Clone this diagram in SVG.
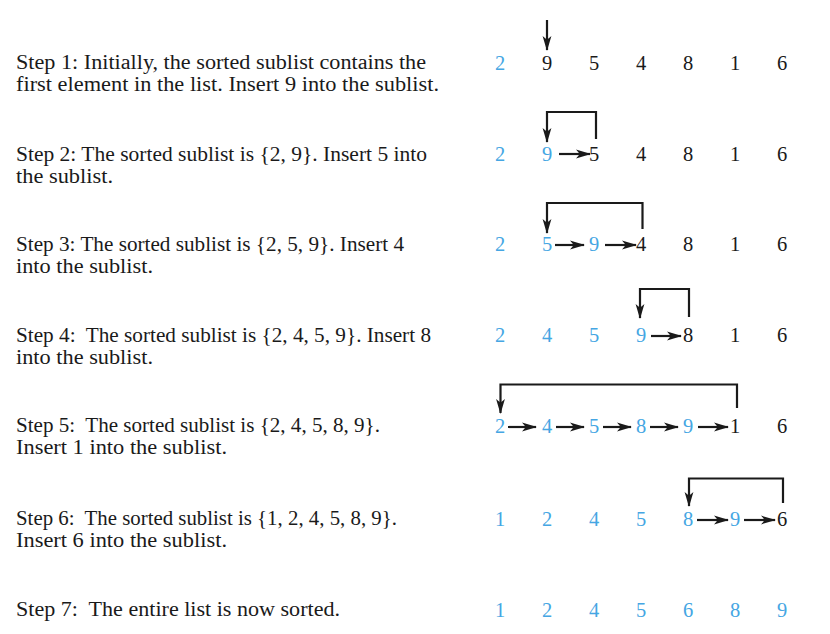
<svg xmlns="http://www.w3.org/2000/svg" width="830" height="634" viewBox="0 0 830 634">
<style>
.lbl{font-family:"Liberation Serif","Times New Roman",serif;font-size:20px;fill:#1a1a1a;white-space:pre}
.n{font-family:"Liberation Serif","Times New Roman",serif;font-size:20.5px;fill:#1a1a1a;text-anchor:middle}
.b{fill:#45a6e3}
.c{fill:none;stroke:#1a1a1a;stroke-width:2.2}
</style>
<defs>
<marker id="ah" markerUnits="userSpaceOnUse" markerWidth="15" markerHeight="10" refX="14" refY="5" orient="auto" viewBox="0 0 15 10">
<path d="M0,0.6 L15,5 L0,9.4 L3.8,5 Z" fill="#1a1a1a"/>
</marker>
</defs>
<rect width="830" height="634" fill="#ffffff"/>

<g id="step1">
<text class="lbl" x="16" y="69" textLength="410" lengthAdjust="spacingAndGlyphs">Step 1: Initially, the sorted sublist contains the</text>
<text class="lbl" x="16" y="91" textLength="423" lengthAdjust="spacingAndGlyphs">first element in the list. Insert 9 into the sublist.</text>
<text class="n b" x="500" y="70">2</text><text class="n" x="547" y="70">9</text><text class="n" x="594" y="70">5</text><text class="n" x="641" y="70">4</text><text class="n" x="688" y="70">8</text><text class="n" x="735" y="70">1</text><text class="n" x="782" y="70">6</text>
</g>
<g id="step2">
<text class="lbl" x="16" y="161" textLength="411" lengthAdjust="spacingAndGlyphs">Step 2: The sorted sublist is {2, 9}. Insert 5 into</text>
<text class="lbl" x="16" y="183" textLength="97" lengthAdjust="spacingAndGlyphs">the sublist.</text>
<text class="n b" x="500" y="161">2</text><text class="n b" x="547" y="161">9</text><text class="n" x="594" y="161">5</text><text class="n" x="641" y="161">4</text><text class="n" x="688" y="161">8</text><text class="n" x="735" y="161">1</text><text class="n" x="782" y="161">6</text>
</g>
<g id="step3">
<text class="lbl" x="16" y="251" textLength="388" lengthAdjust="spacingAndGlyphs">Step 3: The sorted sublist is {2, 5, 9}. Insert 4</text>
<text class="lbl" x="16" y="273" textLength="137" lengthAdjust="spacingAndGlyphs">into the sublist.</text>
<text class="n b" x="500" y="251">2</text><text class="n b" x="547" y="251">5</text><text class="n b" x="594" y="251">9</text><text class="n" x="641" y="251">4</text><text class="n" x="688" y="251">8</text><text class="n" x="735" y="251">1</text><text class="n" x="782" y="251">6</text>
</g>
<g id="step4">
<text class="lbl" x="16" y="342" textLength="415" lengthAdjust="spacingAndGlyphs">Step 4:  The sorted sublist is {2, 4, 5, 9}. Insert 8</text>
<text class="lbl" x="16" y="364" textLength="137" lengthAdjust="spacingAndGlyphs">into the sublist.</text>
<text class="n b" x="500" y="342">2</text><text class="n b" x="547" y="342">4</text><text class="n b" x="594" y="342">5</text><text class="n b" x="641" y="342">9</text><text class="n" x="688" y="342">8</text><text class="n" x="735" y="342">1</text><text class="n" x="782" y="342">6</text>
</g>
<g id="step5">
<text class="lbl" x="16" y="432" textLength="364" lengthAdjust="spacingAndGlyphs">Step 5:  The sorted sublist is {2, 4, 5, 8, 9}.</text>
<text class="lbl" x="16" y="454" textLength="211" lengthAdjust="spacingAndGlyphs">Insert 1 into the sublist.</text>
<text class="n b" x="500" y="433">2</text><text class="n b" x="547" y="433">4</text><text class="n b" x="594" y="433">5</text><text class="n b" x="641" y="433">8</text><text class="n b" x="688" y="433">9</text><text class="n" x="735" y="433">1</text><text class="n" x="782" y="433">6</text>
</g>
<g id="step6">
<text class="lbl" x="16" y="525" textLength="381" lengthAdjust="spacingAndGlyphs">Step 6:  The sorted sublist is {1, 2, 4, 5, 8, 9}.</text>
<text class="lbl" x="16" y="547" textLength="211" lengthAdjust="spacingAndGlyphs">Insert 6 into the sublist.</text>
<text class="n b" x="500" y="526">1</text><text class="n b" x="547" y="526">2</text><text class="n b" x="594" y="526">4</text><text class="n b" x="641" y="526">5</text><text class="n b" x="688" y="526">8</text><text class="n b" x="735" y="526">9</text><text class="n" x="782" y="526">6</text>
</g>
<g id="step7">
<text class="lbl" x="16" y="616" textLength="324" lengthAdjust="spacingAndGlyphs">Step 7:  The entire list is now sorted.</text>
<text class="n b" x="500" y="617">1</text><text class="n b" x="547" y="617">2</text><text class="n b" x="594" y="617">4</text><text class="n b" x="641" y="617">5</text><text class="n b" x="688" y="617">6</text><text class="n b" x="735" y="617">8</text><text class="n b" x="782" y="617">9</text>
</g>

<g id="connectors">
<line class="c" x1="547" y1="20" x2="547" y2="50" marker-end="url(#ah)"/>

<polyline class="c" points="596,139 596,112 547,112 547,142" marker-end="url(#ah)"/>
<line class="c" x1="559" y1="154" x2="590" y2="154" marker-end="url(#ah)"/>

<polyline class="c" points="642.5,229 642.5,203 547,203 547,233" marker-end="url(#ah)"/>
<line class="c" x1="555" y1="245" x2="584" y2="245" marker-end="url(#ah)"/>
<line class="c" x1="605" y1="245" x2="636" y2="245" marker-end="url(#ah)"/>

<polyline class="c" points="689,317 689,289 640,289 640,318" marker-end="url(#ah)"/>
<line class="c" x1="651" y1="336" x2="681" y2="336" marker-end="url(#ah)"/>

<polyline class="c" points="737,408 737,384.5 500.5,384.5 500.5,413" marker-end="url(#ah)"/>
<line class="c" x1="508" y1="427" x2="536" y2="427" marker-end="url(#ah)"/>
<line class="c" x1="556" y1="427" x2="584" y2="427" marker-end="url(#ah)"/>
<line class="c" x1="603" y1="427" x2="631" y2="427" marker-end="url(#ah)"/>
<line class="c" x1="650" y1="427" x2="678" y2="427" marker-end="url(#ah)"/>
<line class="c" x1="698" y1="427" x2="728" y2="427" marker-end="url(#ah)"/>

<polyline class="c" points="783,503 783,478.5 689,478.5 689,506" marker-end="url(#ah)"/>
<line class="c" x1="697" y1="520" x2="728" y2="520" marker-end="url(#ah)"/>
<line class="c" x1="744" y1="520" x2="775" y2="520" marker-end="url(#ah)"/>
</g>
</svg>
